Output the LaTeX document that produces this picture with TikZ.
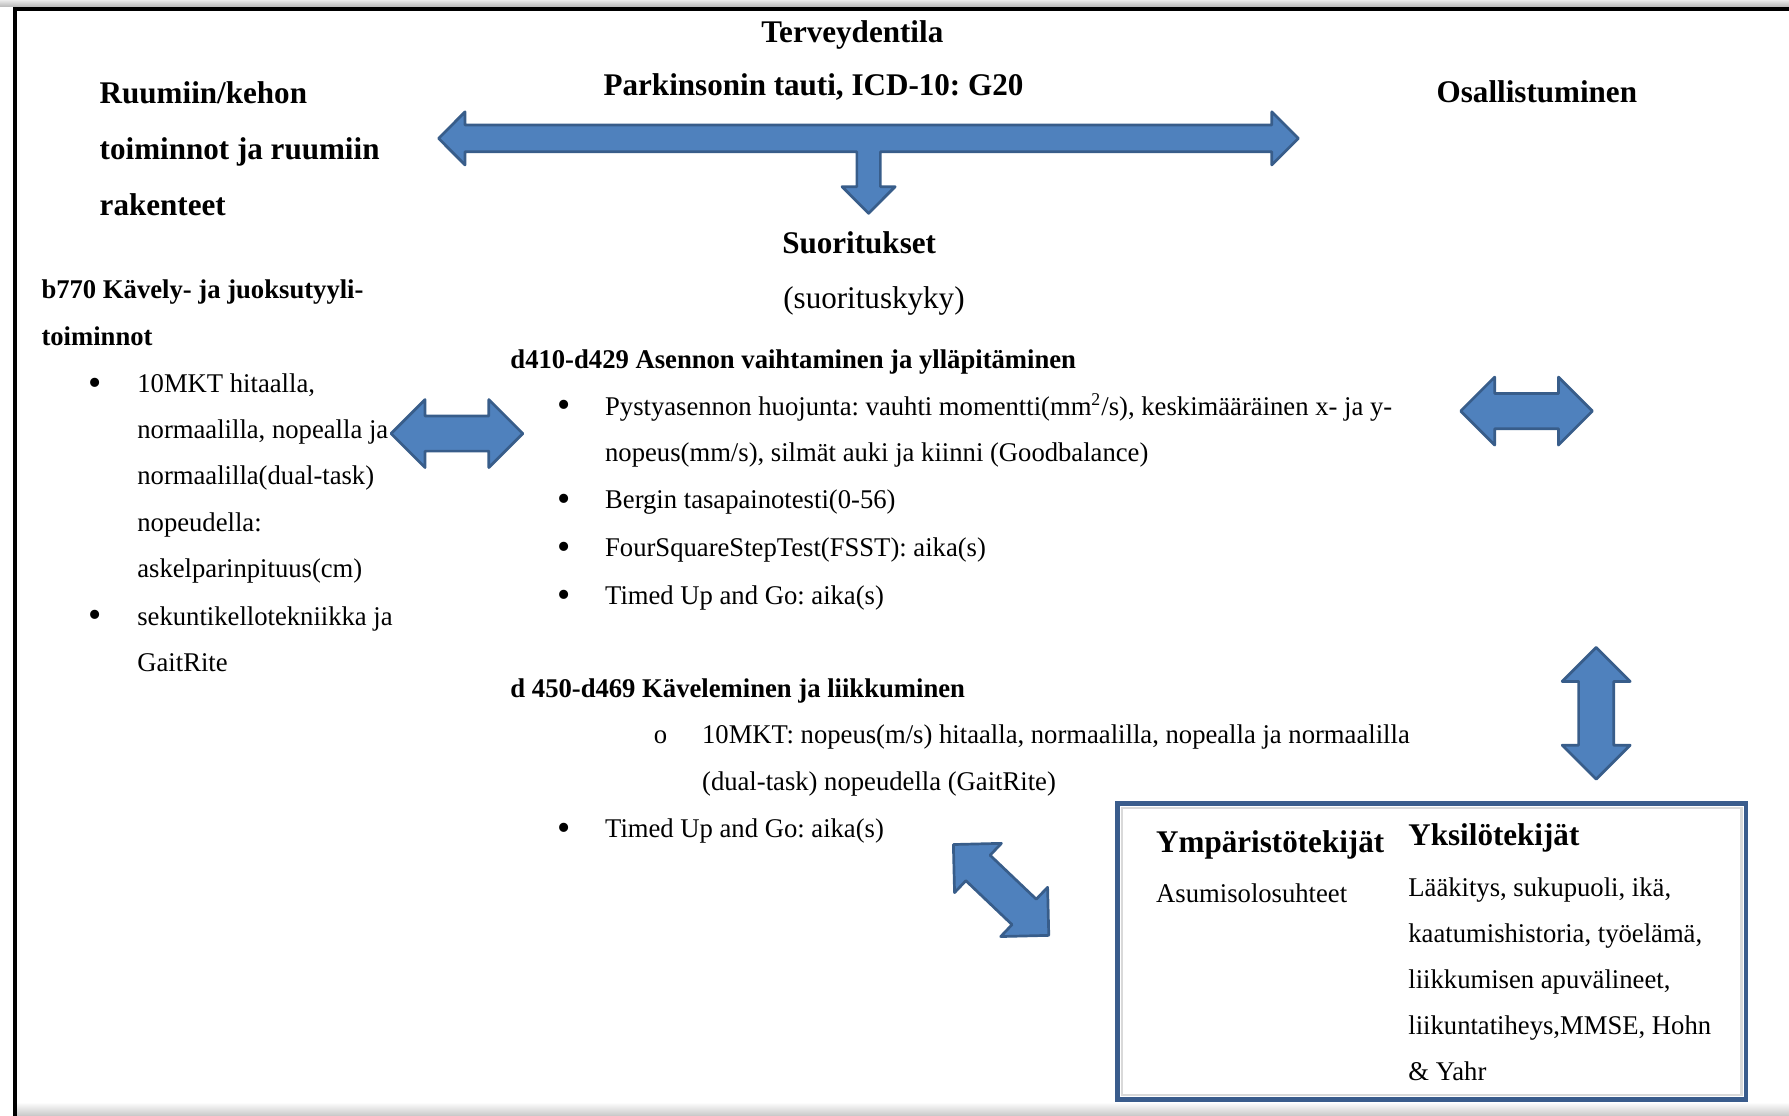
\documentclass[tikz,border=0pt]{standalone}
\usepackage{fontspec}
\setmainfont[FakeStretch=0.986]{Liberation Serif}
\frenchspacing
\usepackage{tikz}
\usetikzlibrary{shapes.arrows}
\definecolor{arrowfill}{HTML}{4F81BD}
\definecolor{arrowline}{HTML}{385D8A}
\definecolor{boxline}{HTML}{3A5C8C}

\begin{document}
\begin{tikzpicture}[x=0.5066pt, y=-0.5066pt,
    txt/.style={anchor=base west, inner sep=0pt, align=left, font=\fontsize{12}{20.5}\selectfont},
    sub/.style={txt, font=\fontsize{12}{20.5}\selectfont\bfseries},
    head/.style={anchor=base, inner sep=0pt, align=left, font=\fontsize{14}{24.8}\selectfont\bfseries},
    dot/.style={anchor=base, inner sep=0pt, yshift=-1.2pt, font=\fontsize{17}{20.5}\selectfont},
    blockarrow/.style={double arrow, draw=arrowline, fill=arrowfill, line width=1.2pt, line join=round,
        double arrow head extend=7.3pt, inner sep=7.2pt, minimum height=58.5pt, minimum width=29.5pt}
]
    \useasboundingbox (0,0) rectangle (1568,978);

    % frame
    \shade[top color=black!8, bottom color=black!28] (0,0) rectangle (1568,6);
    \shade[top color=white, bottom color=black!22] (15,966) rectangle (1568,978);
    \draw[black, line width=1.8pt] (13.4,978) -- (13.4,7.6) -- (1568,7.6);

    \draw[draw=arrowline, fill=arrowfill, line width=1.2pt, line join=round]
        (384.4,121.3) -- (407.6,98) -- (407.6,109.6) -- (1114.7,109.6) -- (1114.7,98) -- (1138,121.3)
        -- (1114.7,144.6) -- (1114.7,133) -- (771.6,133) -- (771.6,163.6) -- (784.6,163.6) -- (761.3,187)
        -- (738,163.6) -- (751,163.6) -- (751,133) -- (407.6,133) -- (407.6,144.6) -- cycle;

    \begin{scope}[yshift=-1pt]
    % titles (base of a multi-line node = its last line)
    \node[head] (health) at (747,35) {Terveydentila};
    \node[head] (disease) at (713,82) {Parkinsonin tauti, ICD-10: G20};
    \node[head] (particip) at (1347,88) {Osallistuminen};
    \node[head, anchor=base west] (body) at (87,187) {Ruumiin/kehon\\toiminnot ja ruumiin\\rakenteet};
    \node[head] (perf) at (753,220) {Suoritukset};
    \node[head, font=\fontsize{14}{24.8}\selectfont] (capac) at (766,268) {(suorituskyky)};

    % body functions
    \node[sub] (b770) at (36,300.5) {b770 Kävely- ja juoksutyyli-\\toiminnot};
    \node[dot] (d1) at (83,342) {\textbullet};
    \node[txt] (gait) at (120,503.9) {10MKT hitaalla,\\normaalilla, nopealla ja\\normaalilla(dual-task)\\nopeudella:\\askelparinpituus(cm)};
    \node[dot] (d2) at (83,546) {\textbullet};
    \node[txt] (watch) at (120,586.5) {sekuntikellotekniikka ja\\GaitRite};

    % activities
    \node[sub] (d410) at (447,321) {d410-d429 Asennon vaihtaminen ja ylläpitäminen};
    \node[dot] (d3) at (494,362) {\textbullet};
    \node[txt] (sway) at (530,402.5) {Pystyasennon huojunta: vauhti momentti(mm\textsuperscript{2}/s), keskimääräinen x- ja y-\\nopeus(mm/s), silmät auki ja kiinni (Goodbalance)};
    \node[dot] (d4) at (494,444) {\textbullet};
    \node[txt] (berg) at (530,444) {Bergin tasapainotesti(0-56)};
    \node[dot] (d5) at (494,486) {\textbullet};
    \node[txt] (fsst) at (530,486) {FourSquareStepTest(FSST): aika(s)};
    \node[dot] (d6) at (494,528) {\textbullet};
    \node[txt] (tug) at (530,528) {Timed Up and Go: aika(s)};

    \node[sub] (d450) at (447,609) {d 450-d469 Käveleminen ja liikkuminen};
    \node[dot, font=\fontsize{12}{20.5}\selectfont, yshift=1.2pt] (d7) at (579,650) {o};
    \node[txt] (speed) at (615,690.5) {10MKT: nopeus(m/s) hitaalla, normaalilla, nopealla ja normaalilla\\(dual-task) nopeudella (GaitRite)};
    \node[dot] (d8) at (494,732) {\textbullet};
    \node[txt] (tug2) at (530,732) {Timed Up and Go: aika(s)};

    % contextual factors
    \node[head, anchor=base west] (envir) at (1013,745) {Ympäristötekijät};
    \node[txt] (living) at (1013,789) {Asumisolosuhteet};
    \node[head, anchor=base west] (person) at (1234,739) {Yksilötekijät};
    \node[txt, font=\fontsize{12}{20.4}\selectfont] (persitems) at (1234,945) {Lääkitys, sukupuoli, ikä,\\kaatumishistoria, työelämä,\\liikkumisen apuvälineet,\\liikuntatiheys,MMSE, Hohn\\\& Yahr};
    \end{scope}

    \node[draw=boxline, line width=2pt, inner sep=0pt, minimum width=279pt, minimum height=131.5pt] (factors) at (1254.8,834) {};
    \draw[black!15, line width=1.2pt] ([xshift=3pt, yshift=-3pt]factors.north west) rectangle ([xshift=-3pt, yshift=3pt]factors.south east);

    % block arrows
    \node[blockarrow] (leftarr) at (400.5,380) {};
    \node[blockarrow] (rightarr) at (1338,360.3) {};
    \node[blockarrow, rotate=90] (vertarr) at (1399,625.2) {};
    \node[blockarrow, rotate=-43.6] (diagarr) at (877.4,780) {};
\end{tikzpicture}
\end{document}
